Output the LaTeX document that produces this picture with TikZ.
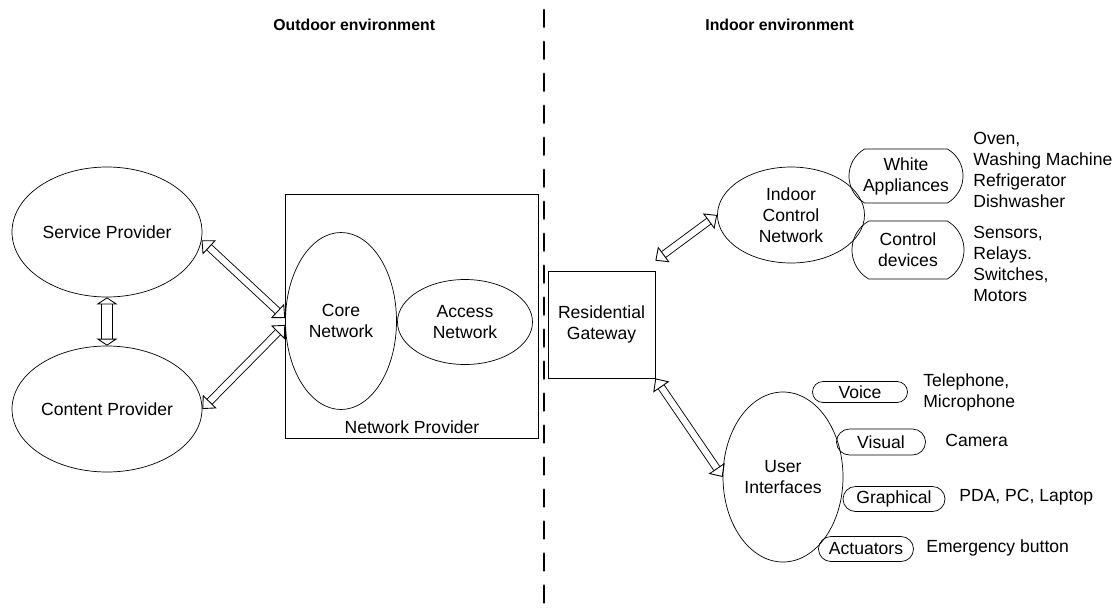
\documentclass[tikz,border=0pt]{standalone}
\usepackage{fontspec}
\setmainfont{Liberation Sans}
\usetikzlibrary{shapes.geometric,shapes.misc,arrows.meta}

\begin{document}
\begin{tikzpicture}[x=0.2mm, y=-0.2mm,
                    font=\fontsize{10}{12}\selectfont,
                    bnode/.style = {shape = ellipse,
                                    draw,
                                    inner sep=0pt,
                                    align=center},
                    rnode/.style = {shape = rounded rectangle,
                                    draw,
                                    inner sep=0pt,
                                    align=center},
                    tnode/.style = {anchor=west, inner sep=0pt, align=left},
                    hnode/.style = {anchor=west, inner sep=0pt,
                                    font=\fontsize{9}{11}\selectfont\bfseries},
                    link/.style = {double, double distance=3.5pt, line width=0.5pt,
                                   {Triangle[open,width=11pt,length=6pt]}-{Triangle[open,width=11pt,length=6pt]}}]
		\useasboundingbox (0,0) rectangle (1118,608);
		% headers and border line
		\node[hnode] (outhd) at (273,25) {Outdoor environment};
		\node[hnode] (inhd) at (705,25) {Indoor environment};
		\coordinate (dtop) at (544,10);
		\coordinate (dbot) at (544,608);
		\draw[line width=1.7pt, line cap=round, dash pattern=on 9.5pt off 8.7pt] (dtop) -- (dbot);
		% outdoor side
		\node[bnode, minimum width=38mm, minimum height=26mm] (svc) at (107,232) {Service Provider};
		\node[bnode, minimum width=38mm, minimum height=25.2mm] (cnt) at (107,409) {Content Provider};
		\node[draw, minimum width=50.6mm, minimum height=48.8mm] (np) at (411.5,316) {};
		\node (nplbl) at (412,427) {Network Provider};
		\node[bnode, minimum width=22.2mm, minimum height=35.4mm] (core) at (341,321) {Core\\Network};
		\node[bnode, minimum width=27mm, minimum height=17mm] (acc) at (465,322) {Access\\Network};
		% indoor side
		\node[draw, align=center, minimum size=21.4mm] (rg) at (601.5,324.5) {Residential\\Gateway};
		\coordinate (rgtop) at ([yshift=2mm]rg.north east);
		\node[bnode, minimum width=29.4mm, minimum height=19.2mm] (icn) at (791,215) {Indoor\\Control\\Network};
		\node[rnode, rounded rectangle arc length=120, minimum width=22.8mm, minimum height=10.8mm] (wa) at (906,176) {White\\Appliances};
		\node[rnode, rounded rectangle arc length=120, minimum width=22.4mm, minimum height=11.6mm] (cd) at (908,250) {Control\\devices};
		\node[bnode, minimum width=24mm, minimum height=34mm] (ui) at (783,477) {User\\Interfaces};
		\node[rnode, minimum width=19mm, minimum height=4.2mm] (voice) at (860,392) {Voice};
		\node[rnode, minimum width=17.8mm, minimum height=5.2mm] (visual) at (881,442) {Visual};
		\node[rnode, minimum width=20.4mm, minimum height=5mm] (graph) at (894,499) {Graphical};
		\node[rnode, minimum width=19mm, minimum height=5mm] (act) at (866,549) {Actuators};
		% device lists
		\node[tnode] (walist) at (973,170) {Oven,\\Washing Machine\\Refrigerator\\Dishwasher};
		\node[tnode] (cdlist) at (973,264) {Sensors,\\Relays.\\Switches,\\Motors};
		\node[tnode] (voicetxt) at (923,392) {Telephone,\\Microphone};
		\node[tnode] (visualtxt) at (945,440) {Camera};
		\node[tnode] (graphtxt) at (959,497) {PDA, PC, Laptop};
		\node[tnode] (acttxt) at (926,548) {Emergency button};
		% links
		\draw[link] (svc.-5) -- (core.177);
		\draw[link] (cnt.east) -- (core.184);
		\draw[link, double distance=6pt, {Triangle[open,width=12pt,length=4pt]}-{Triangle[open,width=12pt,length=4pt]}] (svc.south) -- (cnt.north);
		\draw[link] (rgtop) -- (icn.west);
		\draw[link] (rg.south east) -- (ui.west);
	\end{tikzpicture}
\end{document}
